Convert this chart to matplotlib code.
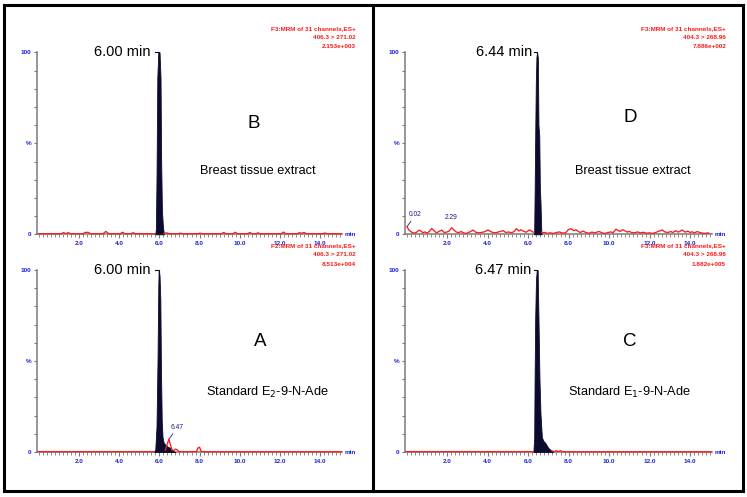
import numpy as np
import matplotlib
matplotlib.use("Agg")
import matplotlib.pyplot as plt
from matplotlib.ticker import FixedLocator, MultipleLocator, FixedFormatter
from matplotlib.lines import Line2D

plt.rcParams['font.family'] = ['Liberation Sans', 'DejaVu Sans']

nan = np.nan
# ---------------- data (time in min, intensity in %) ----------------
B_trace = [(0.0,0.3),(1.1,0.3),(1.25,0.9),(1.35,0.4),(1.47,0.9),(1.6,0.3),(2.2,0.3),(2.32,1.0),
           (2.45,1.1),(2.6,0.3),(3.2,0.3),(3.34,1.6),(3.5,0.3),(4.05,0.3),(4.17,1.1),(4.3,0.3),
           (4.58,0.3),(4.7,0.9),(4.82,0.3),(5.75,0.3),(nan,nan),(6.22,0.3),(6.36,0.8),(6.5,0.3),
           (6.9,0.3),(7.05,0.6),(7.2,0.3),(7.9,0.3),(8.03,0.6),(8.15,0.3),(9.08,0.3),(9.2,1.0),
           (9.32,0.3),(9.65,0.3),(9.77,1.1),(9.9,0.3),(10.38,0.3),(10.5,1.0),(10.62,0.3),(10.8,0.3),
           (10.9,0.8),(11.02,0.3),(12.05,0.3),(12.17,1.2),(12.3,0.3),(12.85,0.3),(12.96,0.9),
           (13.08,0.6),(13.2,1.0),(13.32,0.3),(14.1,0.3),(14.22,0.7),(14.35,0.3),(15.05,0.3)]
B_peak = [(5.80,0),(5.83,3),(5.86,30),(5.90,86),(5.95,100),(6.01,100),(6.06,86),(6.09,41),
          (6.13,13),(6.18,4),(6.23,0)]

A_trace = [(0.0,0.2),(5.74,0.2),(nan,nan),(6.30,1.0),(6.40,4.5),(6.48,7.1),(6.56,3.5),(6.64,1.0),
           (6.72,0.8),(6.80,1.6),(6.88,1.3),(6.98,0.2),(7.85,0.2),(7.93,2.4),(8.0,2.6),(8.08,0.4),
           (8.2,0.15),(15.05,0.15)]
A_peak = [(5.74,0),(5.80,1.5),(5.86,14),(5.91,50),(5.95,92),(5.97,100),(6.01,97),(6.05,84),
          (6.08,47),(6.12,17),(6.16,8),(6.22,5),(6.30,4),(6.40,3),(6.50,2.5),(6.60,1.5),
          (6.70,0.5),(6.78,0)]

C_trace = [(0.0,0.2),(6.26,0.2),(nan,nan),(7.18,0.5),(7.3,0.3),(7.4,0.7),(7.5,0.2),(7.6,0.7),
           (7.7,0.2),(7.85,0.1),(15.05,0.1)]
C_peak = [(6.26,0),(6.30,8),(6.32,40),(6.35,74),(6.39,95),(6.43,100),(6.47,100),(6.51,74),
          (6.56,40),(6.61,21),(6.68,8),(6.76,6),(6.85,5),(6.95,3),(7.02,2),(7.10,1.2),
          (7.18,0.7),(7.24,0)]

D_trace = [(0.02,4.2),(0.1,2.5),(0.2,1.5),(0.28,1.0),(0.4,0.6),(0.5,1.2),(0.6,2.2),(0.68,2.0),
           (0.8,0.9),(0.9,1.3),(1.0,0.7),(1.12,1.5),(1.24,3.2),(1.35,2.0),(1.48,0.8),(1.6,1.6),
           (1.73,2.3),(1.85,1.0),(1.98,1.2),(2.1,1.8),(2.22,3.6),(2.35,2.2),(2.45,1.3),(2.55,0.9),
           (2.7,1.5),(2.8,0.8),(2.95,0.5),(3.1,1.2),(3.29,2.3),(3.4,1.2),(3.55,0.8),(3.7,1.0),
           (3.85,1.4),(4.02,2.4),(4.15,1.5),(4.3,0.8),(4.45,1.0),(4.6,1.5),(4.76,2.0),(4.9,1.0),
           (5.05,1.3),(5.15,0.8),(5.3,1.4),(5.42,3.1),(5.55,1.8),(5.65,2.5),(5.75,1.8),(5.9,1.1),
           (6.07,2.4),(6.2,1.5),(6.3,1.0),(nan,nan),(6.66,1.2),(6.72,0.9),(6.81,1.0),(6.95,0.6),
           (7.1,0.8),(7.25,0.5),(7.4,1.0),(7.55,1.3),(7.7,0.7),(7.85,0.8),(7.98,2.5),(8.12,3.1),
           (8.25,2.0),(8.37,2.5),(8.5,1.4),(8.6,1.0),(8.7,1.8),(8.85,1.0),(9.0,0.6),(9.15,1.2),
           (9.3,0.8),(9.42,1.3),(9.52,1.5),(9.65,0.8),(9.8,0.5),(9.95,1.0),(10.1,1.3),(10.2,0.9),
           (10.34,2.8),(10.45,2.0),(10.55,1.6),(10.66,2.5),(10.8,1.8),(10.9,1.2),(10.99,1.6),
           (11.1,1.0),(11.25,0.8),(11.4,1.3),(11.55,0.8),(11.7,1.1),(11.85,0.6),(12.0,0.8),
           (12.15,0.5),(12.3,1.0),(12.47,1.8),(12.63,2.4),(12.75,1.3),(12.9,1.0),(13.04,1.5),
           (13.15,1.0),(13.29,2.0),(13.4,1.2),(13.5,1.6),(13.61,2.4),(13.75,1.2),(13.9,1.7),
           (14.0,1.0),(14.1,1.4),(14.2,0.8),(14.35,1.5),(14.5,0.9),(14.65,0.6),(14.76,0.5),
           (14.85,0.8),(14.93,0.6)]
D_peak = [(6.29,0),(6.30,2),(6.32,21),(6.35,54),(6.38,83),(6.41,97),(6.44,100),(6.48,97),
          (6.51,60),(6.55,54),(6.58,25),(6.61,18),(6.64,5),(6.66,0)]

x_ticks = [2.0, 4.0, 6.0, 8.0, 10.0, 12.0, 14.0]
y_ticks = [0, 50, 100]
y_tick_labels = ['0', '%', '100']

# panel texts
panels = {
    'B': dict(trace=B_trace, peak=B_peak, apex=5.98, rt='6.00 min', letter='B',
              desc='Breast tissue extract',
              header=['F3:MRM of 31 channels,ES+', '406.3 > 271.02', '2.153e+003']),
    'A': dict(trace=A_trace, peak=A_peak, apex=5.97, rt='6.00 min', letter='A',
              desc='Standard E$_2$-9-N-Ade',
              header=['F2:MRM of 31 channels,ES+', '406.3 > 271.02', '8.513e+004']),
    'D': dict(trace=D_trace, peak=D_peak, apex=6.44, rt='6.44 min', letter='D',
              desc='Breast tissue extract',
              header=['F3:MRM of 31 channels,ES+', '404.3 > 268.96', '7.886e+002']),
    'C': dict(trace=C_trace, peak=C_peak, apex=6.45, rt='6.47 min', letter='C',
              desc='Standard E$_1$-9-N-Ade',
              header=['F3:MRM of 31 channels,ES+', '404.3 > 268.96', '1.882e+005']),
}
small_labels = {'A': [('6.47', 6.48, 7.1)], 'D': [('0.02', 0.02, 4.2), ('2.29', 2.22, 3.6)]}

# ---------------- layout ----------------
W, H = 747, 497
fig = plt.figure(figsize=(W / 100, H / 100), dpi=100)
fig.patch.set_facecolor('white')

def fx(px):
    return px / W

def fy(py):
    return 1 - py / H

# frame
frame_kw = dict(color='black', lw=2.2, transform=fig.transFigure, solid_capstyle='projecting')
for xs, ys in [([4, 743], [5, 5]), ([4, 743], [491, 491]), ([4, 4], [5, 491]),
               ([743, 743], [5, 491]), ([373, 373], [5, 491])]:
    fig.add_artist(Line2D([fx(x) for x in xs], [fy(y) for y in ys], **frame_kw))

BLUE = '#1c22d8'
RED = '#ff1a1a'
GRAY = '#7a7a7a'
PEAK = '#0b0b2e'

layout = {
    'B': dict(left=37, right=342, top=52.3, bottom=234.3),
    'A': dict(left=37, right=342, top=270, bottom=452),
    'D': dict(left=405, right=712, top=52.3, bottom=234.3),
    'C': dict(left=405, right=712, top=270, bottom=452),
}
text_pos = {
    'B': dict(rt=(151, 51.5), letter=(254, 123), desc=(258, 171), head=(356, 28.3)),
    'A': dict(rt=(151, 270.5), letter=(260, 342), desc=(268, 392), head=(356, 246)),
    'D': dict(rt=(532, 51.5), letter=(630, 117), desc=(633, 171), head=(726, 28.3)),
    'C': dict(rt=(531, 270.5), letter=(630, 342), desc=(630, 392), head=(726, 246)),
}

for key, p in panels.items():
    L = layout[key]
    ax = fig.add_axes([fx(L['left']), fy(L['bottom']), fx(L['right'] - L['left']),
                       (L['bottom'] - L['top']) / H])
    ax.set_xlim(-0.08, 15.08)
    ax.set_ylim(0, 100)
    for s in ['top', 'right']:
        ax.spines[s].set_visible(False)
    for s in ['left', 'bottom']:
        ax.spines[s].set_color(GRAY)
        ax.spines[s].set_linewidth(1.1)
    ax.patch.set_alpha(0)

    ax.xaxis.set_major_locator(FixedLocator(x_ticks))
    ax.xaxis.set_major_formatter(FixedFormatter(['%.1f' % v for v in x_ticks]))
    ax.xaxis.set_minor_locator(MultipleLocator(0.2))
    ax.yaxis.set_major_locator(FixedLocator(y_ticks))
    ax.yaxis.set_major_formatter(FixedFormatter(y_tick_labels))
    ax.yaxis.set_minor_locator(MultipleLocator(10))
    ax.tick_params(axis='x', which='major', length=3, width=0.8, color=GRAY, pad=2.0,
                   labelsize=4.6, labelcolor=BLUE)
    ax.tick_params(axis='x', which='minor', length=1.8, width=0.6, color=GRAY)
    ax.tick_params(axis='y', which='both', length=2.2, width=0.8, color=GRAY, pad=2.0,
                   labelsize=4.6, labelcolor=BLUE)
    for lab in ax.get_xticklabels() + ax.get_yticklabels():
        lab.set_fontweight('bold')

    pk = np.array(p['peak'], dtype=float)
    ax.fill_between(pk[:, 0], pk[:, 1], 0, color=PEAK, lw=0.6, edgecolor=PEAK, zorder=3,
                    clip_on=False)
    tr = np.array(p['trace'], dtype=float)
    ax.plot(tr[:, 0], tr[:, 1], color=RED, lw=0.95, zorder=4, clip_on=False)

    # apex marker bracket
    a = p['apex']
    ax.plot([a - 0.17, a, a], [100, 100, 97], color=PEAK, lw=0.8, clip_on=False, zorder=5)

    # min label
    ax.text(15.5, 0, 'min', color=BLUE, fontsize=4.6, fontweight='bold',
            ha='center', va='center', clip_on=False)

    for lab, t, v in small_labels.get(key, []):
        if lab == '2.29':
            ax.text(t, v + 3.5, lab, fontsize=4.8, color='#1a1a80', ha='center', va='bottom')
        else:
            ax.annotate(lab, xy=(t, v), xytext=(t + 0.1, v + 4.5), fontsize=4.8,
                        color='#1a1a80', ha='left', va='bottom',
                        arrowprops=dict(arrowstyle='-', color='#1a1a80', lw=0.6,
                                        shrinkA=0, shrinkB=0))

    T = text_pos[key]
    fig.text(fx(T['rt'][0]), fy(T['rt'][1]), p['rt'], ha='right', va='center',
             fontsize=10.5, color='black')
    fig.text(fx(T['letter'][0]), fy(T['letter'][1]), p['letter'], ha='center', va='center',
             fontsize=13.5, color='black')
    fig.text(fx(T['desc'][0]), fy(T['desc'][1]), p['desc'], ha='center', va='center',
             fontsize=9.2, color='black')
    hx, hy = T['head']
    for i, line in enumerate(p['header']):
        fig.text(fx(hx), fy(hy + 9 * i), line, ha='right', va='center', fontsize=4.6,
                 color=RED, fontweight='bold')

fig.savefig('out.png', dpi=100, facecolor='white')
